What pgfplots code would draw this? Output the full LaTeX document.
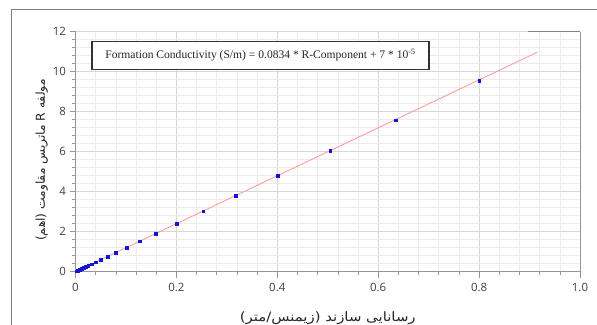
\documentclass[border=0pt]{standalone}
\usepackage{fontspec}
\usepackage{pgfplots}
\pgfplotsset{compat=1.18}
\setmainfont{Liberation Serif}
\newfontfamily\tickfont{Open Sans}
\newfontfamily\fa[Script=Arabic, FakeStretch=1.15]{DejaVu Sans}
\newfontfamily\fay[Script=Arabic]{DejaVu Sans}
\TeXXeTstate=1
\definecolor{ptblue}{RGB}{20,20,210}
\definecolor{fitred}{RGB}{255,150,150}
\definecolor{majgrid}{RGB}{215,215,215}
\definecolor{mingrid}{RGB}{236,236,236}
\definecolor{axgray}{RGB}{150,150,150}
\definecolor{ticktext}{RGB}{64,64,64}
\begin{document}
\begin{tikzpicture}
\useasboundingbox (0bp,0bp) rectangle (597bp,325bp);
\fill[white] (0bp,0bp) rectangle (597bp,325bp);
\draw[color=gray, line width=1bp] (11bp,0bp) -- (11bp,315bp) -- (597bp,315bp);
\begin{axis}[
  at={(75.5bp,53.3bp)}, anchor=origin,
  scale only axis, width=504.5bp, height=240bp,
  xmin=0, xmax=1, ymin=0, ymax=12,
  xtick={0,0.2,0.4,0.6,0.8,1.0},
  xticklabels={0,0.2,0.4,0.6,0.8,1.0},
  ytick={0,2,4,6,8,10,12},
  yticklabels={0,2,4,6,8,10,12},
  minor x tick num=4, minor y tick num=4,
  grid=both,
  major grid style={color=majgrid, line width=0.6bp},
  minor grid style={color=mingrid, line width=0.6bp},
  tick align=outside,
  major tick length=6bp, minor tick length=3.5bp,
  tick style={color=axgray, line width=0.6bp},
  axis line style={color=axgray, line width=0.9bp},
  axis x line*=bottom, axis y line*=left,
  ticklabel style={font=\tickfont\fontsize{11.5}{13}\selectfont, text=ticktext},
  xticklabel style={yshift=-2bp},
  xlabel={\fa\fontsize{13}{15}\selectfont\beginR رسانایی سازند (زیمنس/متر)\endR},
  ylabel={\fay\fontsize{12.3}{15}\selectfont\beginR مولفه \beginL R\endL{} ماتریس مقاومت (اهم)\endR},
  xlabel style={at={(axis description cs:0.5,-0.192)}, anchor=center, text=black!85},
  ylabel style={at={(axis description cs:-0.067,0.465)}, anchor=center, text=black!85},
  clip=false,
]
\draw[color=axgray, line width=0.9bp] (axis cs:1,0) -- (axis cs:1,12);
\draw[color=gray, line width=0.9bp] (axis cs:0.897,12) -- (axis cs:1,12);
\addplot[color=fitred, line width=0.8bp, no marks] coordinates {(0,0) (0.915,10.97)};
\addplot[only marks, mark=square*, mark size=1.3bp, color=ptblue] coordinates {
(0.8,9.55) (0.635,7.58) (0.505,6.05) (0.401,4.80) (0.318,3.81) (0.253,3.03)
(0.201,2.41) (0.159,1.91) (0.127,1.52) (0.101,1.21) (0.080,0.96) (0.0636,0.76)
(0.0505,0.60) (0.0401,0.48) (0.0319,0.38) (0.0253,0.30) (0.0201,0.24) (0.016,0.19)
(0.0127,0.15) (0.0101,0.12) (0.008,0.095) (0.00636,0.076) (0.00505,0.060)
(0.00401,0.047) (0.00319,0.037) (0.00253,0.030) (0.00201,0.023)
};
\node[draw=black!80, line width=1.1bp, fill=white, minimum width=337bp, minimum height=28bp, inner sep=0pt, font=\fontsize{11.6}{13}\selectfont, text=black!85]
  at (axis cs:0.3667,10.83) {Formation Conductivity (S/m) = 0.0834 * R-Component + 7 * 10\textsuperscript{-5}};
\end{axis}
\end{tikzpicture}
\end{document}
